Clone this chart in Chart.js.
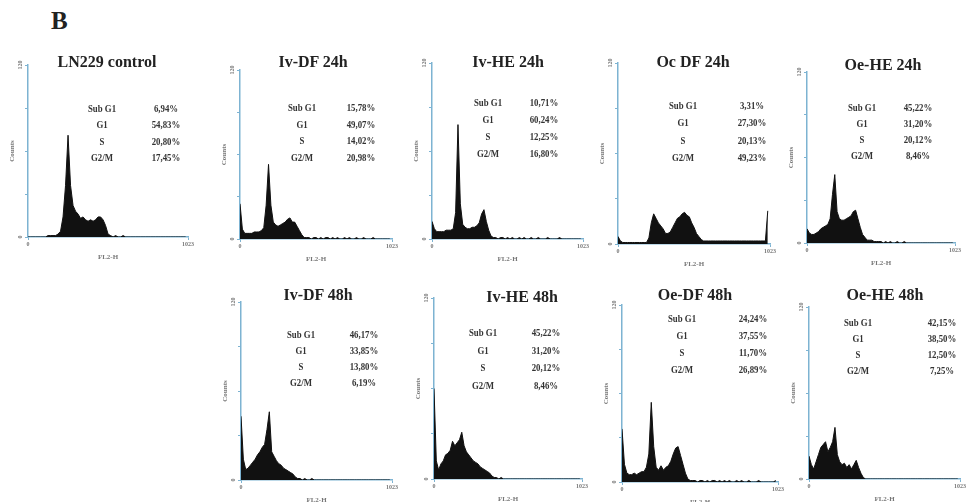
<!DOCTYPE html>
<html>
<head>
<meta charset="utf-8">
<script src="https://cdn.jsdelivr.net/npm/chart.js"></script>
<style>
  body { margin: 0; background: #fff; }
  #lienzo { position: relative; width: 966px; height: 502px; overflow: hidden; font-family: "Liberation Serif", serif; background: #fff; }
  #letra { position: absolute; left: 51px; top: 7px; font-size: 25px; font-weight: bold; color: #222; }
  .titulo { position: absolute; font-weight: bold; font-size: 16px; color: #222; white-space: nowrap; transform: translate(-50%, -50%); }
  .fila { position: absolute; font-weight: bold; font-size: 11px; color: #333; white-space: nowrap; transform: translate(-50%, -50%) scaleX(0.8); }
  canvas { position: absolute; }
</style>
</head>
<body>
<div id="lienzo"><div id="letra">B</div></div>
<script>
// Canales FL2-H (un punto cada 16 canales) y etiquetas de ejes
const canales = Array.from({ length: 64 }, (_, i) => i * 16);
const xTickVals = [0, 1023];
const xTickLabels = ['0', '1023'];
const yTickVals = [0, 30, 60, 90, 120];
const yTickLabels = ['0', '', '', '', '120'];
const fases = ['Sub G1', 'G1', 'S', 'G2/M'];

const titulos = ['LN229 control', 'Iv-DF 24h', 'Iv-HE 24h', 'Oc DF 24h', 'Oe-HE 24h',
                 'Iv-DF 48h', 'Iv-HE 48h', 'Oe-DF 48h', 'Oe-HE 48h'];

// Porcentajes del ciclo celular (Sub G1, G1, S, G2/M)
const cicloLN229  = [6.94, 54.83, 20.80, 17.45];
const cicloIvDF24 = [15.78, 49.07, 14.02, 20.98];
const cicloIvHE24 = [10.71, 60.24, 12.25, 16.80];
const cicloOcDF24 = [3.31, 27.30, 20.13, 49.23];
const cicloOeHE24 = [45.22, 31.20, 20.12, 8.46];
const cicloIvDF48 = [46.17, 33.85, 13.80, 6.19];
const cicloIvHE48 = [45.22, 31.20, 20.12, 8.46];
const cicloOeDF48 = [24.24, 37.55, 11.70, 26.89];
const cicloOeHE48 = [42.15, 38.50, 12.50, 7.25];

// Conteos del histograma
const conteosLN229 = [0,0,0,0,0,0,0,0, 1,1,1,1,2,4,14,36, 71,36,22,18,16,13,14,12, 11,12,11,12,14,14,12,8,
                      2,1,0,1,0,0,1,0, 0,0,0,0,0,0,0,0, 0,0,0,0,0,0,0,0, 0,0,0,0,0,0,0,0];
const conteosIvDF24 = [25,7,4,4,4,4,5,5, 5,6,8,24,53,24,12,10, 9,10,11,12,14,15,12,12, 9,6,3,1,1,1,0,1,
                       1,0,1,0,1,1,0,1, 0,1,0,0,1,0,1,0, 0,1,0,0,1,0,0,0, 1,0,0,0,0,0,0,0];
const conteosIvHE24 = [12,7,5,5,5,5,6,6, 6,7,18,78,24,10,8,7, 7,8,8,9,11,17,20,12, 6,2,1,1,0,1,1,0,
                       1,0,1,0,0,1,0,1, 0,0,1,0,0,1,0,0, 0,1,0,0,0,0,1,0, 0,0,0,0,0,0,0,0];
const conteosOcDF24 = [5,2,1,1,1,1,1,1, 1,1,1,1,1,4,14,20, 17,14,12,10,7,7,8,11, 14,17,18,20,21,19,18,14,
                       11,7,5,3,2,2,2,2, 2,2,2,2,2,2,2,2, 2,2,2,2,2,2,2,2, 2,2,2,2,2,2,2,22];
const conteosOeHE24 = [10,7,6,6,7,8,10,11, 12,13,17,34,48,22,17,16, 16,17,18,19,22,23,17,11, 6,4,2,2,2,1,1,1,
                       1,0,1,0,1,0,0,1, 0,0,1,0,0,0,0,0, 0,0,0,0,0,0,0,0, 0,0,0,0,0,0,0,0];
const conteosIvDF48 = [43,14,7,8,10,12,14,17, 19,22,24,34,46,19,16,13, 11,10,8,7,6,5,4,2, 1,1,0,1,0,0,1,0,
                       0,0,0,0,0,0,0,0, 0,0,0,0,0,0,0,0, 0,0,0,0,0,0,0,0, 0,0,0,0,0,0,0,0];
const conteosIvHE48 = [60,12,6,10,12,16,17,19, 25,22,24,26,31,22,18,16, 14,12,11,10,8,7,6,5, 4,2,1,1,0,1,0,0,
                       0,0,0,0,0,0,0,0, 0,0,0,0,0,0,0,0, 0,0,0,0,0,0,0,0, 0,0,0,0,0,0,0,0];
const conteosOeDF48 = [36,12,6,5,5,6,5,6, 7,7,10,19,54,24,10,8, 11,8,10,11,14,19,23,24, 18,12,6,2,1,1,1,0,
                       1,1,0,1,0,1,1,0, 1,0,1,0,1,0,0,1, 0,1,0,0,1,0,0,0, 1,0,0,0,0,0,0,1];
const conteosOeHE48 = [16,10,7,12,17,22,24,26, 19,22,26,36,17,12,10,11, 8,10,7,10,13,8,4,1, 0,0,0,0,0,0,0,0,
                       0,0,0,0,0,0,0,0, 0,0,0,0,0,0,0,0, 0,0,0,0,0,0,0,0, 0,0,0,0,0,0,0,0];

const conteos = [conteosLN229, conteosIvDF24, conteosIvHE24, conteosOcDF24, conteosOeHE24,
                 conteosIvDF48, conteosIvHE48, conteosOeDF48, conteosOeHE48];
const ciclos = [cicloLN229, cicloIvDF24, cicloIvHE24, cicloOcDF24, cicloOeHE24,
                cicloIvDF48, cicloIvHE48, cicloOeDF48, cicloOeHE48];

// Posición de cada panel: caja de ejes (L, T, R, B), título (tx, ty), tabla (colEtiqueta, colValor, filas)
const paneles = [
  { L: 28,  T: 65,  R: 188, B: 237, tx: 107, ty: 62,  ce: 102, cv: 166, f0: 108, df: 16.3 },
  { L: 240, T: 70,  R: 392, B: 239, tx: 313, ty: 62,  ce: 302, cv: 361, f0: 107, df: 16.6 },
  { L: 432, T: 63,  R: 583, B: 239, tx: 508, ty: 62,  ce: 488, cv: 544, f0: 102, df: 17.0 },
  { L: 618, T: 63,  R: 770, B: 244, tx: 693, ty: 62,  ce: 683, cv: 752, f0: 105, df: 17.3 },
  { L: 807, T: 72,  R: 955, B: 243, tx: 883, ty: 65,  ce: 862, cv: 918, f0: 107, df: 16.0 },
  { L: 241, T: 302, R: 392, B: 480, tx: 318, ty: 295, ce: 301, cv: 364, f0: 334, df: 16.0 },
  { L: 434, T: 298, R: 582, B: 479, tx: 522, ty: 297, ce: 483, cv: 546, f0: 332, df: 17.6 },
  { L: 622, T: 305, R: 778, B: 482, tx: 695, ty: 295, ce: 682, cv: 753, f0: 318, df: 17.0 },
  { L: 809, T: 307, R: 960, B: 479, tx: 885, ty: 295, ce: 858, cv: 942, f0: 322, df: 16.0 }
];

const colorEje = '#7db3d2';
const fuente = 'Liberation Serif';

// Etiquetas del eje Y giradas como en CellQuest
const etiquetasY = {
  id: 'etiquetasY',
  afterDraw(chart) {
    const y = chart.scales.y;
    const ctx = chart.ctx;
    ctx.save();
    ctx.fillStyle = '#777';
    ctx.font = 'bold 6px "' + fuente + '"';
    ctx.textAlign = 'center';
    ctx.textBaseline = 'middle';
    yTickVals.forEach((v, i) => {
      if (!yTickLabels[i]) return;
      ctx.save();
      ctx.translate(y.right - 8, y.getPixelForValue(v));
      ctx.rotate(-Math.PI / 2);
      ctx.fillText(yTickLabels[i], 0, 0);
      ctx.restore();
    });
    ctx.restore();
  }
};

function formato(v) {
  return v.toFixed(2).replace('.', ',') + '%';
}

function crearTexto(clase, texto, x, y) {
  const d = document.createElement('div');
  d.className = clase;
  d.textContent = texto;
  d.style.left = x + 'px';
  d.style.top = y + 'px';
  document.getElementById('lienzo').appendChild(d);
}

function crearPanel(p, k) {
  const lienzo = document.getElementById('lienzo');
  const canvas = document.createElement('canvas');
  const ancho = (p.R - p.L) + 28;
  const alto = (p.B - p.T) + 30;
  canvas.width = ancho;
  canvas.height = alto;
  canvas.style.left = (p.L - 20) + 'px';
  canvas.style.top = (p.T - 6) + 'px';
  canvas.style.width = ancho + 'px';
  canvas.style.height = alto + 'px';
  lienzo.appendChild(canvas);

  new Chart(canvas, {
    type: 'line',
    data: {
      datasets: [{
        data: canales.map((c, i) => ({ x: c, y: conteos[k][i] })),
        borderColor: '#111',
        backgroundColor: '#111',
        borderWidth: 1,
        pointRadius: 0,
        fill: 'origin',
        tension: 0
      }]
    },
    options: {
      responsive: false,
      animation: false,
      devicePixelRatio: 1,
      layout: { padding: { top: 6, right: 8, left: 0, bottom: 0 } },
      plugins: { legend: { display: false }, tooltip: { enabled: false } },
      scales: {
        x: {
          type: 'linear', min: 0, max: 1023,
          afterBuildTicks: s => { s.ticks = xTickVals.map(v => ({ value: v })); },
          afterFit: s => { s.height = 24; },
          grid: { drawOnChartArea: false, color: colorEje, tickLength: 3 },
          border: { color: colorEje, width: 1.5 },
          ticks: {
            font: { size: 6, family: fuente, weight: 'bold' }, color: '#777', padding: 1,
            maxRotation: 0, autoSkip: false,
            callback: (v, i) => xTickLabels[i]
          },
          title: { display: true, text: 'FL2-H', font: { size: 7, family: fuente, weight: 'bold' }, color: '#777', padding: { top: 3, bottom: 0 } }
        },
        y: {
          min: 0, max: 120,
          afterBuildTicks: s => { s.ticks = yTickVals.map(v => ({ value: v })); },
          afterFit: s => { s.width = 20; },
          grid: { drawOnChartArea: false, color: colorEje, tickLength: 3 },
          border: { color: colorEje, width: 1.5 },
          ticks: { display: false },
          title: { display: true, text: 'Counts', font: { size: 7, family: fuente, weight: 'bold' }, color: '#777', padding: 0 }
        }
      }
    },
    plugins: [etiquetasY]
  });

  // Título y tabla de porcentajes
  crearTexto('titulo', titulos[k], p.tx, p.ty);
  fases.forEach((f, i) => {
    const y = p.f0 + i * p.df;
    crearTexto('fila', f, p.ce, y);
    crearTexto('fila', formato(ciclos[k][i]), p.cv, y);
  });
}

paneles.forEach(crearPanel);
</script>
</body>
</html>
